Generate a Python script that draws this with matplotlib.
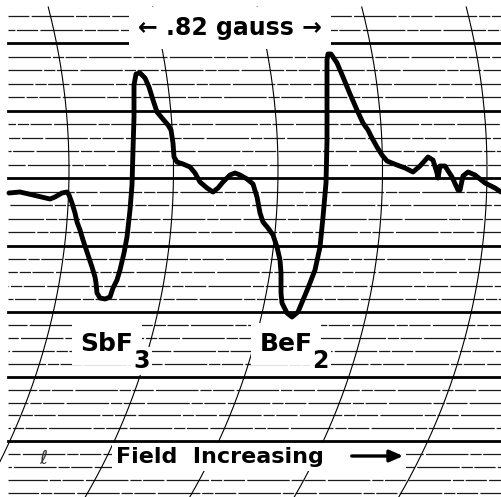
import numpy as np
import matplotlib.pyplot as plt

# recorder trace (field position, pen position) in chart px
trace_x = [9, 20, 33, 50, 55, 62, 67, 69, 72, 75, 77, 80, 83, 87, 92, 95, 96, 97,
           100, 105, 110, 113, 117, 120, 124, 127, 130, 132, 133, 134, 134, 136,
           140, 145, 149, 153, 157, 162, 168, 171, 173, 174, 177, 183, 190, 195,
           200, 207, 213, 218, 223, 230, 235, 240, 247, 253, 257, 260, 263, 268,
           273, 277, 280, 281, 281, 282, 287, 292, 298, 303, 308, 315, 320, 323,
           326, 327, 327, 327, 328, 331, 337, 343, 350, 357, 363, 368, 372, 377,
           382, 387, 397, 405, 413, 420, 428, 433, 437, 438, 440, 445, 452, 458,
           460, 463, 468, 475, 485, 495, 501]
trace_y = [193, 192, 195, 199, 197, 193, 192, 195, 203, 213, 222, 230, 240, 252,
           267, 277, 283, 293, 298, 299, 297, 288, 280, 270, 253, 237, 210, 185,
           150, 117, 85, 74, 73, 78, 87, 100, 112, 118, 125, 130, 143, 157, 162,
           164, 167, 173, 182, 188, 192, 188, 182, 175, 173, 175, 179, 184, 197,
           213, 222, 228, 235, 247, 260, 273, 293, 303, 313, 317, 312, 300, 288,
           270, 247, 217, 183, 140, 90, 60, 54, 54, 63, 77, 94, 110, 123, 130,
           138, 147, 155, 161, 165, 168, 172, 166, 157, 160, 173, 178, 166, 166,
           177, 190, 190, 176, 172, 175, 183, 188, 192]

# chart paper: heavy rulings (every 5th line) and arc centres
heavy_lines = [43, 111, 178, 246, 312, 377, 441]
arc_apex = [69, 173.5, 278, 382.5, 487]
arc_radius = 650
arc_mid = 170

fig = plt.figure(figsize=(5.01, 4.97), dpi=100)
ax = fig.add_axes([0, 0, 1, 1])
ax.set_xlim(0, 501)
ax.set_ylim(497, 0)
ax.axis('off')

# horizontal rulings
rulings = []
for a, b in zip(heavy_lines[:-1], heavy_lines[1:]):
    rulings += list(np.linspace(a, b, 6)[1:-1])
rulings += [heavy_lines[0] - 13.4, heavy_lines[0] - 26.8]
rulings += [heavy_lines[-1] + 13 * k for k in range(1, 5)]
for i, y in enumerate(rulings):
    ax.plot([8, 501], [y, y], color='#1a1a1a', lw=0.9,
            ls=(i * 7, (34, 1.5, 9, 1.2, 17, 1.8)), zorder=1)
for y in heavy_lines:
    ax.plot([8, 501], [y, y], color='black', lw=2.0, zorder=1)

# curved time lines of the recorder
yy = np.linspace(7, 497, 300)
for xa in arc_apex:
    xx = xa - (arc_radius - np.sqrt(arc_radius**2 - (yy - arc_mid)**2))
    ax.plot(xx, yy, color='black', lw=0.8, zorder=1)

# the trace
ax.plot(trace_x, trace_y, color='black', lw=3.5, solid_capstyle='round',
        solid_joinstyle='round', zorder=4)

font = dict(family='DejaVu Sans', weight='bold')

def white(pad):
    return dict(boxstyle='square,pad=%s' % pad, facecolor='white',
                edgecolor='none')

ax.text(230, 28, '\u2190 .82 gauss \u2192', ha='center', va='center',
        fontsize=17, bbox=white(0.4), zorder=3, **font)

for name, sub, xc in [('SbF', '3', 107), ('BeF', '2', 286)]:
    t = ax.text(xc, 344, name, ha='center', va='center', fontsize=18,
                bbox=white(0.35), zorder=3, **font)
    ax.annotate(sub, xy=(1, 0), xycoords=t, xytext=(0, -3.5),
                textcoords='offset points', ha='left', va='center',
                fontsize=17, bbox=white(0.1), zorder=3, **font)

ax.text(116, 457, 'Field  Increasing          ', ha='left', va='center',
        fontsize=16, bbox=white(0.2), zorder=3, **font)
ax.annotate('', xy=(406, 456), xytext=(349, 456),
            arrowprops=dict(arrowstyle='-|>,head_length=0.8,head_width=0.35',
                            color='black', lw=2.4), zorder=5)

ax.text(43, 458, '\u2113', ha='center', va='center', fontsize=14,
        color='#333333', zorder=3)

fig.savefig('out.png', dpi=100)
